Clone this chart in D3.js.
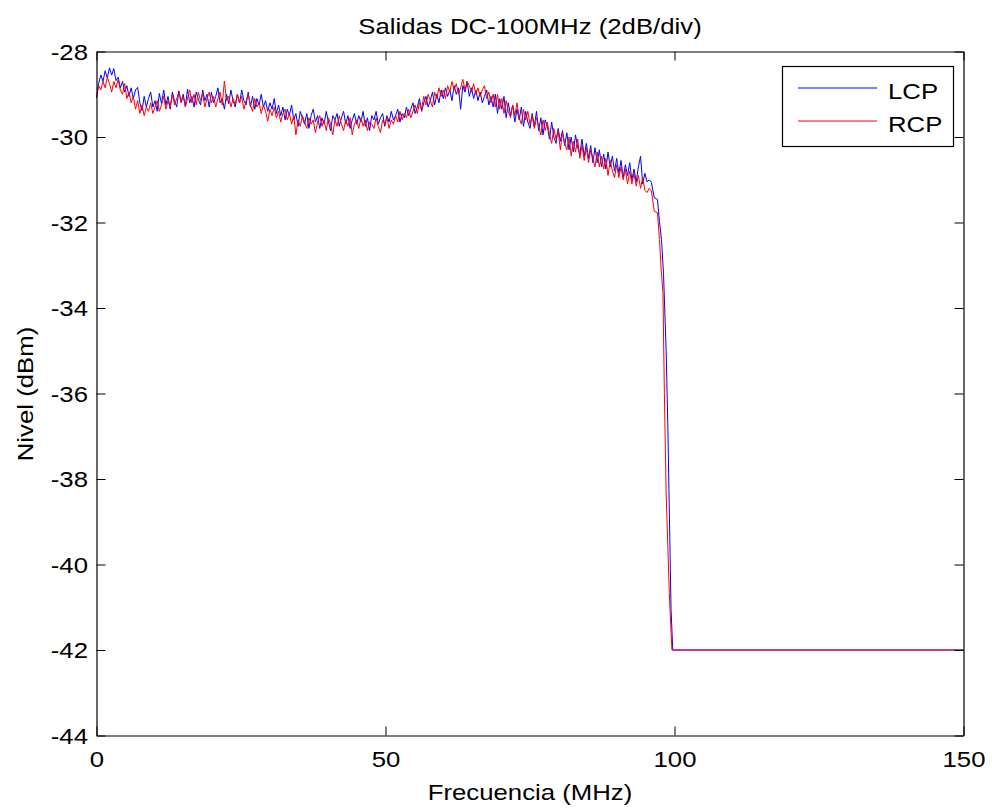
<!DOCTYPE html>
<html>
<head>
<meta charset="utf-8">
<script src="https://cdn.jsdelivr.net/npm/d3@7"></script>
<style>
  html, body { margin: 0; padding: 0; background: #fff; }
  svg { display: block; }
  text { font-family: "Liberation Sans", Arial, sans-serif; fill: #000; }
</style>
</head>
<body>
<svg id="chart" width="992" height="809"></svg>
<script>
// Spectrum analyzer sweep: passband samples every 0.375 MHz from 0 to 96 MHz
const sweepStartMHz = 0;
const sweepStepMHz = 0.375;

const lcpPassband = [
  -29.08, -28.75, -28.55, -28.7, -28.45, -28.62, -28.38, -28.55,
  -28.4, -28.68, -28.6, -28.85, -28.7, -28.95, -28.8, -29.05,
  -28.85, -29.1, -28.9, -28.84, -29.2, -29.38, -29.05, -29.3,
  -29.1, -28.95, -29.3, -29.15, -29.4, -28.98, -29.22, -28.9,
  -29.25, -29.05, -29.35, -28.95, -29.15, -29.3, -28.92, -29.18,
  -29.0, -29.28, -28.88, -29.2, -29.05, -29.3, -28.95, -29.12,
  -29.25, -28.9, -29.15, -29.0, -29.3, -28.95, -29.2, -29.05,
  -28.85, -29.2, -29.1, -29.35, -29.0, -29.22, -28.9, -29.15,
  -29.3, -29.0, -29.2, -28.9, -29.15, -29.25, -28.95, -29.3,
  -29.05, -29.35, -29.1, -29.25, -29.0, -29.3, -29.15, -29.4,
  -29.2, -29.35, -29.1, -29.45, -29.25, -29.5, -29.3, -29.6,
  -29.35, -29.5, -29.25, -29.6, -29.45, -29.75, -29.4, -29.55,
  -29.7, -29.45, -29.8, -29.5, -29.35, -29.65, -29.5, -29.8,
  -29.55, -29.7, -29.4, -29.65, -29.85, -29.5, -29.6, -29.45,
  -29.75, -29.55, -29.4, -29.7, -29.5, -29.8, -29.6, -29.45,
  -29.7, -29.5, -29.65, -29.4, -29.75, -29.55, -29.85, -29.5,
  -29.6, -29.4, -29.7, -29.55, -29.45, -29.75, -29.5, -29.65,
  -29.4, -29.6, -29.5, -29.35, -29.65, -29.45, -29.55, -29.3,
  -29.5, -29.35, -29.2, -29.45, -29.3, -29.1, -29.4, -29.2,
  -29.05, -29.3, -29.15, -28.95, -29.25, -29.0, -29.2, -28.9,
  -29.1, -28.85, -29.05, -28.9, -29.15, -28.8, -29.0, -28.85,
  -29.35, -28.8, -28.95, -28.7, -29.05, -28.85, -29.1, -28.9,
  -29.15, -28.95, -29.2, -29.05, -28.9, -29.25, -29.05, -29.3,
  -29.0, -29.45, -29.1, -29.35, -29.05, -29.55, -29.2, -29.5,
  -29.25, -29.65, -29.35, -29.6, -29.3, -29.75, -29.4, -29.65,
  -29.8, -29.45, -29.75, -29.4, -29.85, -29.55, -29.95, -29.6,
  -29.75, -30.05, -29.65, -30.0, -30.15, -29.8, -30.1, -29.85,
  -30.2, -29.9, -30.3, -30.0, -30.35, -29.95, -30.25, -30.4,
  -30.05, -30.45, -30.15, -30.5, -30.2, -30.6, -30.25, -30.6,
  -30.3, -30.7, -30.4, -30.75, -30.35, -30.7, -30.45, -30.8,
  -30.5, -30.85, -30.55, -30.95, -30.65, -30.9, -30.6, -31.0,
  -30.75, -31.05, -30.7, -30.45, -31.1, -30.85, -31.05, -31.0,
  -31.06
];

const rcpPassband = [
  -29.08, -28.8, -28.9, -28.7, -28.85, -28.6, -28.75, -28.95,
  -28.7, -28.85, -28.65, -28.9, -29.0, -28.75, -29.1, -28.95,
  -29.2, -29.05, -29.35, -29.15, -29.45, -29.25, -29.5, -29.3,
  -29.4, -29.2, -29.45, -29.3, -29.15, -29.4, -29.25, -29.05,
  -29.35, -29.15, -29.3, -29.0, -29.25, -29.1, -28.95, -29.2,
  -29.05, -29.3, -29.1, -28.9, -29.2, -29.0, -29.25, -28.95,
  -29.15, -29.0, -29.3, -29.1, -28.95, -29.2, -29.05, -29.3,
  -29.1, -28.95, -29.25, -28.69, -29.15, -29.05, -29.3, -29.1,
  -29.25, -29.0, -29.2, -29.05, -29.35, -29.15, -29.0, -29.25,
  -29.4, -29.1, -29.3, -29.2, -29.45, -29.25, -29.4, -29.63,
  -29.35, -29.5, -29.3, -29.55, -29.4, -29.65, -29.45, -29.35,
  -29.6, -29.45, -29.7, -29.5, -29.95, -29.6, -29.75, -29.5,
  -29.65, -29.8, -29.55, -29.7, -29.6, -29.9, -29.65, -29.5,
  -29.75, -29.6, -29.85, -29.55, -29.7, -29.95, -29.6, -29.75,
  -29.5, -29.7, -29.85, -29.6, -29.75, -29.55, -29.95, -29.7,
  -29.6, -29.8, -29.55, -29.75, -29.6, -29.85, -29.65, -29.7,
  -29.8, -29.55, -29.75, -29.9, -29.6, -29.7, -29.55, -29.8,
  -29.6, -29.7, -29.5, -29.65, -29.4, -29.6, -29.45, -29.55,
  -29.35, -29.55, -29.4, -29.25, -29.45, -29.2, -29.35, -29.05,
  -29.25, -29.0, -29.15, -29.3, -28.95, -29.1, -28.85, -29.05,
  -28.9, -29.1, -28.8, -28.95, -28.7, -28.9, -28.75, -29.0,
  -28.85, -28.65, -28.9, -28.7, -28.8, -28.95, -28.75, -29.0,
  -28.85, -29.05, -28.9, -28.8, -29.1, -28.95, -29.2, -29.0,
  -29.3, -29.0, -29.35, -29.1, -29.45, -29.15, -29.4, -29.55,
  -29.25, -29.5, -29.2, -29.55, -29.7, -29.35, -29.6, -29.4,
  -29.7, -29.5, -29.8, -29.55, -29.75, -29.95, -29.6, -29.85,
  -29.65, -29.95, -30.15, -29.8, -30.05, -29.85, -30.3, -29.9,
  -30.15, -30.3, -30.0, -30.45, -30.1, -30.35, -30.05, -30.5,
  -30.2, -30.55, -30.25, -30.6, -30.3, -30.5, -30.7, -30.35,
  -30.7, -30.45, -30.75, -30.5, -30.9, -30.55, -30.8, -30.95,
  -30.65, -30.95, -30.7, -31.0, -30.75, -31.1, -30.8, -31.1,
  -30.85, -31.15, -30.9, -31.2, -30.95, -31.25, -31.3, -31.2,
  -31.26
];

// Filter roll-off and stop band (irregularly spaced points)
const lcpRollOffMHz = [96.5, 97.05, 97.4, 97.75, 98.1, 98.55, 98.85, 99.15, 99.4, 99.7, 150];
const lcpRollOffDbm = [-31.42, -31.46, -31.98, -32.4, -33.2, -34.97, -36.77, -39.1, -41.05, -42.0, -42.0];
const rcpRollOffMHz = [96.5, 97.05, 97.4, 97.7, 98.0, 98.25, 98.55, 99.1, 99.55, 150];
const rcpRollOffDbm = [-31.74, -31.77, -32.4, -33.1, -33.64, -35.98, -38.32, -40.66, -42.0, -42.0];

const seriesNames = ["LCP", "RCP"];
const seriesColors = ["#0000ff", "#ff0000"];
const xTicks = [0, 50, 100, 150];
const yTicks = [-44, -42, -40, -38, -36, -34, -32, -30, -28];

const chartTitle = "Salidas DC-100MHz (2dB/div)";
const xTitle = "Frecuencia (MHz)";
const yTitle = "Nivel (dBm)";

// ---- layout ----
const svg = d3.select("#chart");
const plotLeft = 96.5, plotRight = 963.5, plotTop = 51.5, plotBottom = 735.5;
const fontSize = 23, stretch = 1.12, tickLen = 9;

const x = d3.scaleLinear().domain([0, 150]).range([plotLeft, plotRight]);
const y = d3.scaleLinear().domain([-44, -28]).range([plotBottom, plotTop]);

function buildSeries(passband, rollMHz, rollDbm) {
  const pts = passband.map((v, i) => [sweepStartMHz + i * sweepStepMHz, v]);
  rollMHz.forEach((f, i) => pts.push([f, rollDbm[i]]));
  return pts;
}
const series = [
  buildSeries(lcpPassband, lcpRollOffMHz, lcpRollOffDbm),
  buildSeries(rcpPassband, rcpRollOffMHz, rcpRollOffDbm)
];

svg.append("rect").attr("width", 992).attr("height", 809).attr("fill", "#fff");

// ---- data lines ----
const line = d3.line().x(d => x(d[0])).y(d => y(d[1]));
series.forEach((pts, i) => {
  svg.append("path")
    .datum(pts)
    .attr("d", line)
    .attr("fill", "none")
    .attr("stroke", seriesColors[i])
    .attr("stroke-width", 1)
    .attr("stroke-linejoin", "round");
});

// ---- axes (inward ticks on all four sides) ----
const fmt = d => String(d);
function styleAxis(g) {
  g.selectAll("path.domain").attr("stroke", "#000").attr("stroke-width", 1.2);
  g.selectAll(".tick line").attr("stroke", "#000").attr("stroke-width", 1);
  g.selectAll("text")
    .style("font-family", "'Liberation Sans', Arial, sans-serif")
    .style("font-size", fontSize + "px")
    .attr("fill", "#000");
}

const gBottom = svg.append("g").attr("transform", `translate(0,${plotBottom})`)
  .call(d3.axisBottom(x).tickValues(xTicks).tickFormat(fmt)
    .tickSizeInner(-tickLen).tickSizeOuter(0).tickPadding(15));
styleAxis(gBottom);
gBottom.selectAll(".tick text").attr("transform", `scale(${stretch},1)`);

const gLeft = svg.append("g").attr("transform", `translate(${plotLeft},0)`)
  .call(d3.axisLeft(y).tickValues(yTicks).tickFormat(fmt)
    .tickSizeInner(-tickLen).tickSizeOuter(0));
styleAxis(gLeft);
gLeft.selectAll(".tick text")
  .attr("x", -8.5 / stretch)
  .attr("dy", "0.33em")
  .attr("transform", `scale(${stretch},1)`);

const gTop = svg.append("g").attr("transform", `translate(0,${plotTop})`)
  .call(d3.axisTop(x).tickValues(xTicks).tickFormat("")
    .tickSizeInner(-tickLen).tickSizeOuter(0));
styleAxis(gTop);

const gRight = svg.append("g").attr("transform", `translate(${plotRight},0)`)
  .call(d3.axisRight(y).tickValues(yTicks).tickFormat("")
    .tickSizeInner(-tickLen).tickSizeOuter(0));
styleAxis(gRight);

// ---- titles ----
function label(txt, tx, ty, rot, anchor) {
  svg.append("text")
    .attr("transform", `translate(${tx},${ty}) rotate(${rot}) scale(${stretch},1)`)
    .attr("text-anchor", anchor)
    .style("font-size", fontSize + "px")
    .text(txt);
}
label(chartTitle, 530, 34, 0, "middle");
label(xTitle, 530, 800, 0, "middle");
label(yTitle, 33, 394, -90, "middle");

// ---- legend ----
const legend = svg.append("g");
legend.append("rect")
  .attr("x", 782.5).attr("y", 66.5).attr("width", 171).attr("height", 80)
  .attr("fill", "#fff").attr("stroke", "#000").attr("stroke-width", 1.2);
const legendRows = [88, 121];
seriesNames.forEach((name, i) => {
  legend.append("line")
    .attr("x1", 798).attr("x2", 877)
    .attr("y1", legendRows[i]).attr("y2", legendRows[i])
    .style("stroke", seriesColors[i]).style("stroke-width", 1);
  legend.append("text")
    .attr("transform", `translate(888,${legendRows[i] + 10.5}) scale(${stretch},1)`)
    .style("font-size", fontSize + "px")
    .text(name);
});
</script>
</body>
</html>
